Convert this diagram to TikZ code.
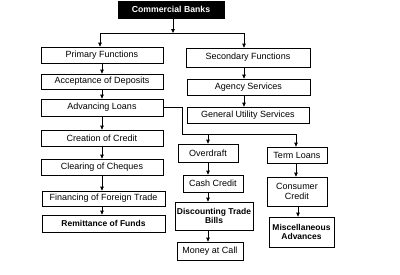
\documentclass[tikz,border=0pt]{standalone}
\usepackage{fontspec}
\setmainfont{Liberation Sans}
\usetikzlibrary{arrows.meta}
\tikzset{
  box/.style={draw=black, line width=0.8pt, inner sep=0pt, align=center,
    font=\fontsize{9}{10}\selectfont},
  bold/.style={font=\fontsize{8.5}{9.5}\selectfont\bfseries},
  arr/.style={line width=0.8pt, -{Triangle[length=4pt,width=3.6pt]}},
  ln/.style={line width=0.8pt},
}
\begin{document}
\begin{tikzpicture}[x=1pt,y=-1pt]
\useasboundingbox (0,0) rectangle (400,274);
% top
\node[box, fill=black, text=white, minimum width=106pt, minimum height=17pt,
  font=\fontsize{8.7}{10}\selectfont\bfseries] (bank) at (171,9.5) {Commercial Banks};
% left column
\node[box, minimum width=122pt, minimum height=16pt] (prim) at (102,55) {Primary Functions};
\node[box, minimum width=122pt, minimum height=15pt] (accept) at (102,81.5) {Acceptance of Deposits};
\node[box, minimum width=122pt, minimum height=17pt] (adv) at (102,107.5) {Advancing Loans};
\node[box, minimum width=122pt, minimum height=16pt] (credit) at (102,138) {Creation of Credit};
\node[box, minimum width=122pt, minimum height=16pt] (cheq) at (102,167) {Clearing of Cheques};
\node[box, minimum width=123pt, minimum height=15pt] (finance) at (103.5,198.5) {Financing of Foreign Trade};
\node[box, bold, minimum width=123pt, minimum height=17pt] (remit) at (103.5,223.5) {Remittance of Funds};
% right column
\node[box, minimum width=124pt, minimum height=19pt] (sec) at (248,57.5) {Secondary Functions};
\node[box, minimum width=123pt, minimum height=16pt] (agency) at (248.5,87) {Agency Services};
\node[box, minimum width=122pt, minimum height=16pt] (general) at (248,115) {General Utility Services};
% loans columns
\node[box, minimum width=60pt, minimum height=18pt] (over) at (208,153) {Overdraft};
\node[box, minimum width=60pt, minimum height=17pt] (cash) at (213,183.5) {Cash Credit};
\node[box, bold, minimum width=78pt, minimum height=28pt] (disc) at (214,216) {Discounting Trade\\Bills};
\node[box, minimum width=66pt, minimum height=18pt] (money) at (210,251) {Money at Call};
\node[box, minimum width=60pt, minimum height=16pt] (term) at (297,155) {Term Loans};
\node[box, minimum width=60pt, minimum height=29pt] (consumer) at (297,191.5) {Consumer\\Credit};
\node[box, bold, minimum width=65pt, minimum height=30pt] (misc) at (301.5,232) {Miscellaneous\\Advances};
% junctions
\coordinate (bj) at (173,33);
\coordinate (bl) at (100,33);
\coordinate (br) at (244,33);
\coordinate (aj) at (182,134);
\coordinate (oj) at (208,134);
\coordinate (tj) at (296,134);
\coordinate (cm) at (298,0);
% top connectors
\draw[arr] (bank.south -| bj) -- (bj);
\draw[ln] (bl) -- (br);
\draw[arr] (bl) -- (prim.north -| bl);
\draw[arr] (br) -- (sec.north -| br);
% left column arrows
\draw[arr] (prim.south) -- (accept.north);
\draw[arr] (accept.south) -- (adv.north);
\draw[arr] (adv.south) -- (credit.north);
\draw[arr] (credit.south) -- (cheq.north);
\draw[arr] (cheq.south) -- (finance.north -| cheq.south);
\draw[arr] (finance.south -| cheq.south) -- (remit.north -| cheq.south);
% right column arrows
\draw[arr] (sec.south -| br) -- (agency.north -| br);
\draw[arr] (agency.south -| br) -- (general.north -| br);
% loans connector
\draw[ln] (adv.east) -| (aj) -- (tj);
\draw[arr] (oj) -- (over.north -| oj);
\draw[arr] (tj) -- (term.north -| tj);
\draw[arr] (over.south -| oj) -- (cash.north -| oj);
\draw[arr] (cash.south -| oj) -- (disc.north -| oj);
\draw[arr] (disc.south -| oj) -- (money.north -| oj);
\draw[arr] (term.south -| tj) -- (consumer.north -| tj);
\draw[arr] (consumer.south -| cm) -- (misc.north -| cm);
\end{tikzpicture}
\end{document}
